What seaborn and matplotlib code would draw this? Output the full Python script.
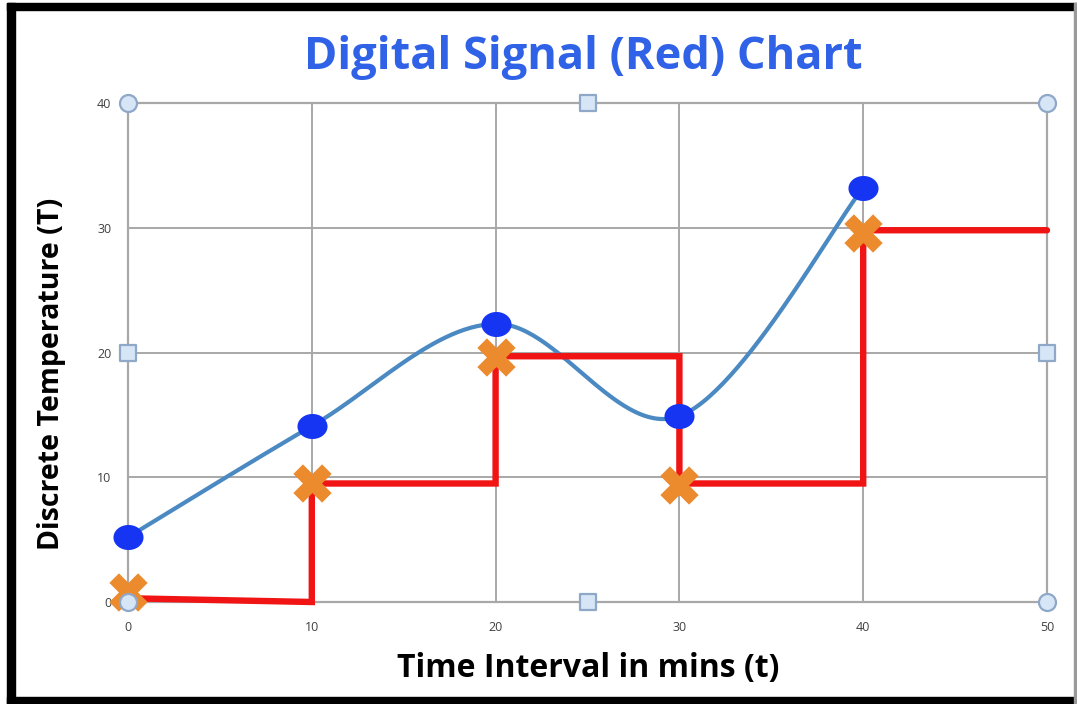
import numpy as np
import pandas as pd
import matplotlib
matplotlib.use("Agg")
import matplotlib.pyplot as plt
from matplotlib.patches import Rectangle
import seaborn as sns

# Analog samples (blue) and the held digital signal (red)
time_min = [0, 10, 20, 30, 40]
analog_temp = [5.2, 14.1, 22.3, 14.9, 33.2]
sample_temp = [0.8, 9.5, 19.6, 9.4, 29.6]
step_time = [0, 10, 10, 20, 20, 30, 30, 40, 40, 50]
step_temp = [0.3, 0.0, 9.5, 9.5, 19.7, 19.7, 9.5, 9.5, 29.8, 29.8]
x_ticks = [0, 10, 20, 30, 40, 50]
y_ticks = [0, 10, 20, 30, 40]


def smooth_curve(x, y, n=60):
    """Catmull-Rom spline through the points (like a spreadsheet 'smoothed line')."""
    x = np.asarray(x, float)
    y = np.asarray(y, float)
    px = np.concatenate([[x[0]], x, [x[-1]]])
    py = np.concatenate([[y[0]], y, [y[-1]]])
    xs, ys = [], []
    t = np.linspace(0, 1, n)
    for i in range(1, len(px) - 2):
        p0, p1, p2, p3 = (np.array([px[j], py[j]]) for j in range(i - 1, i + 3))
        m1 = (p2 - p0) / 2
        m2 = (p3 - p1) / 2
        h00 = 2 * t**3 - 3 * t**2 + 1
        h10 = t**3 - 2 * t**2 + t
        h01 = -2 * t**3 + 3 * t**2
        h11 = t**3 - t**2
        pts = (np.outer(h00, p1) + np.outer(h10, m1) +
               np.outer(h01, p2) + np.outer(h11, m2))
        xs.append(pts[:, 0])
        ys.append(pts[:, 1])
    return np.concatenate(xs), np.concatenate(ys)


sns.set_theme(style="white")
plt.rcParams["font.family"] = ["Open Sans", "DejaVu Sans"]

fig = plt.figure(figsize=(10.77, 7.04), dpi=100)
ax = fig.add_axes([128 / 1077, 1 - 602 / 704, (1047 - 128) / 1077, (602 - 103) / 704])

grid_col = "#A8A8A8"
ax.set_xlim(0, 50)
ax.set_ylim(0, 40)
ax.set_xticks(x_ticks)
ax.set_yticks(y_ticks)
ax.grid(True, color=grid_col, linewidth=1.4, zorder=0)
for s in ax.spines.values():
    s.set_color(grid_col)
    s.set_linewidth(1.6)

# Smoothed analog curve
cx, cy = smooth_curve(time_min, analog_temp)
curve = pd.DataFrame({"t": cx, "T": cy})
sns.lineplot(data=curve, x="t", y="T", sort=False, estimator=None,
             color="#4A89C2", linewidth=3.0, ax=ax, zorder=3)

# Digital (held) signal
steps = pd.DataFrame({"t": step_time, "T": step_temp})
sns.lineplot(data=steps, x="t", y="T", sort=False, estimator=None,
             color="#F01414", linewidth=4.6, ax=ax, zorder=4,
             solid_joinstyle="miter", clip_on=False)

# Analog sample points (slightly wide ellipses)
pts = pd.DataFrame({"t": time_min, "T": analog_temp, "S": sample_temp})
ellipse = np.column_stack([1.2 * np.cos(np.linspace(0, 2 * np.pi, 40)),
                           np.sin(np.linspace(0, 2 * np.pi, 40))])
sns.scatterplot(data=pts, x="t", y="T", color="#1535F2", s=470,
                marker=ellipse, edgecolor="#1535F2", linewidth=0, ax=ax,
                zorder=6, clip_on=False)
# Sampled values
sns.scatterplot(data=pts, x="t", y="S", color="#EC8A2E", s=760,
                marker="X", edgecolor="#EC8A2E", linewidth=0, ax=ax,
                zorder=5, clip_on=False)

# Frame handles on the plot area
handle_face = "#D6E6F7"
handle_edge = "#8FA8C8"
ax.scatter([0, 0, 50, 50], [0, 40, 40, 0], s=150, marker="o",
           facecolor=handle_face, edgecolor=handle_edge, linewidth=1.6,
           zorder=7, clip_on=False)
ax.scatter([25, 25, 0, 50], [40, 0, 20, 20], s=120, marker="s",
           facecolor=handle_face, edgecolor=handle_edge, linewidth=1.6,
           zorder=7, clip_on=False)

ax.tick_params(axis="both", length=0, labelsize=9, labelcolor="#404040")
ax.tick_params(axis="x", pad=14)
ax.tick_params(axis="y", pad=12)

ax.set_xlabel("Time Interval in mins (t)", fontsize=23, fontweight="bold",
              color="black")
ax.set_ylabel("Discrete Temperature (T)", fontsize=20.5, fontweight="bold",
              color="black")
ax.xaxis.set_label_coords((588 - 128) / 919, (602 - 668) / 499)
ax.yaxis.set_label_coords((52 - 128) / 919, (602 - 374) / 499)
ax.xaxis.label.set_va("center")
ax.yaxis.label.set_va("center")

fig.text(583 / 1077, 1 - 57 / 704, "Digital Signal (Red) Chart",
         ha="center", va="center", fontsize=32.5, fontweight="bold",
         color="#2F62E6")

# Outer border of the picture
fig.patches.append(Rectangle((7 / 1077, 0), 8 / 1077, 1 - 3 / 704,
                             transform=fig.transFigure, color="black"))
fig.patches.append(Rectangle((7 / 1077, 1 - 10 / 704), 1 - 7 / 1077, 7 / 704,
                             transform=fig.transFigure, color="black"))
fig.patches.append(Rectangle((7 / 1077, 0), 1 - 7 / 1077, 7 / 704,
                             transform=fig.transFigure, color="black"))
fig.patches.append(Rectangle((1074 / 1077, 0), 2 / 1077, 1 - 3 / 704,
                             transform=fig.transFigure, color="#9A9A9A"))

fig.savefig("out.png", dpi=100)
